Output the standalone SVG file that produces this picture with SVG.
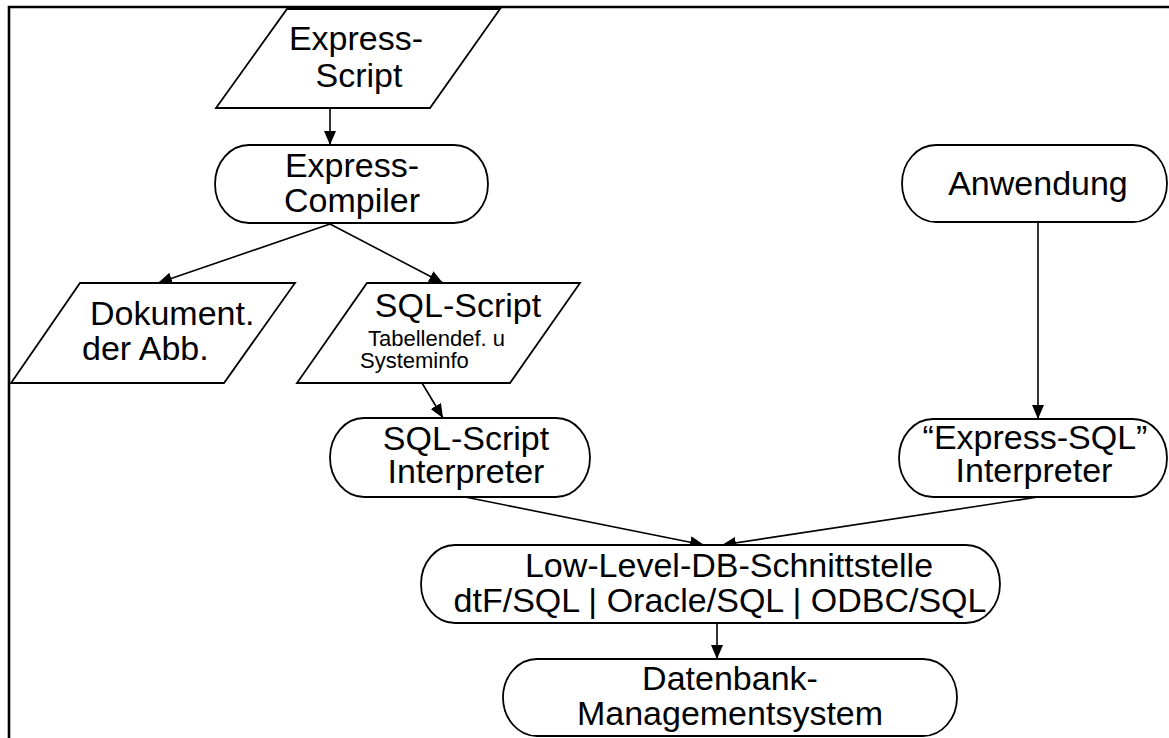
<svg xmlns="http://www.w3.org/2000/svg" width="1169" height="738" viewBox="0 0 1169 738">
  <style>
    .shape { fill: #ffffff; stroke: #000000; stroke-width: 1.8; }
    .frame { fill: none; stroke: #000000; stroke-width: 2.6; }
    .edge { fill: none; stroke: #000000; stroke-width: 1.6; marker-end: url(#arrow); }
    text { font-family: "Liberation Sans", Arial, Helvetica, sans-serif; font-size: 34px; fill: #000000; }
    .mid { text-anchor: middle; }
    .small { font-size: 22px; }
  </style>
  <defs>
    <marker id="arrow" viewBox="0 0 14 12" refX="14" refY="6" markerWidth="14" markerHeight="12" markerUnits="userSpaceOnUse" orient="auto">
      <path d="M0,0 L14,6 L0,12 Z" fill="#000000"/>
    </marker>
  </defs>
  <rect x="0" y="0" width="1169" height="738" fill="#ffffff"/>

  <!-- page frame: left and top rule -->
  <path class="frame" d="M9,738 V7 H1169"/>

  <!-- connectors -->
  <g id="connectors">
    <line class="edge" x1="330" y1="108" x2="330" y2="145"/>
    <line class="edge" x1="330" y1="224" x2="158" y2="283"/>
    <line class="edge" x1="330" y1="224" x2="443" y2="283"/>
    <line class="edge" x1="422" y1="383" x2="443" y2="418"/>
    <line class="edge" x1="1038" y1="222" x2="1038" y2="419"/>
    <line class="edge" x1="465" y1="497" x2="704" y2="545"/>
    <line class="edge" x1="1038" y1="497" x2="722" y2="545"/>
    <line class="edge" x1="717" y1="623" x2="717" y2="659"/>
  </g>

  <g id="express-script">
    <polygon class="shape" points="287,9 500,9 430,108 216,108"/>
    <text class="mid" x="356" y="50">Express-</text>
    <text class="mid" x="359" y="87">Script</text>
  </g>

  <g id="express-compiler">
    <rect class="shape" x="215" y="145" width="273" height="78" rx="34" ry="39"/>
    <text class="mid" x="352" y="177">Express-</text>
    <text class="mid" x="352" y="212">Compiler</text>
  </g>

  <g id="anwendung">
    <rect class="shape" x="902" y="145" width="265" height="77" rx="34" ry="38.5"/>
    <text class="mid" x="1038" y="195">Anwendung</text>
  </g>

  <g id="dokumentation">
    <polygon class="shape" points="80,283 295,283 224,383 11,383"/>
    <text x="90" y="325">Dokument.</text>
    <text x="82" y="360">der Abb.</text>
  </g>

  <g id="sql-script">
    <polygon class="shape" points="367,283 580,283 510,383 297,383"/>
    <text class="mid" x="458" y="317">SQL-Script</text>
    <text class="small" x="368" y="346">Tabellendef. u</text>
    <text class="small" x="360" y="368">Systeminfo</text>
  </g>

  <g id="sql-script-interpreter">
    <rect class="shape" x="330" y="418" width="260" height="79" rx="34" ry="39.5"/>
    <text class="mid" x="466" y="450">SQL-Script</text>
    <text class="mid" x="466" y="483">Interpreter</text>
  </g>

  <g id="express-sql-interpreter">
    <rect class="shape" x="899" y="419" width="268" height="78" rx="34" ry="39"/>
    <text class="mid" x="1035" y="449">“Express-SQL”</text>
    <text class="mid" x="1034" y="482">Interpreter</text>
  </g>

  <g id="low-level-db">
    <rect class="shape" x="421" y="545" width="579" height="78" rx="34" ry="39"/>
    <text class="mid" x="729" y="577">Low-Level-DB-Schnittstelle</text>
    <text class="mid" x="720" y="612">dtF/SQL | Oracle/SQL | ODBC/SQL</text>
  </g>

  <g id="dbms">
    <rect class="shape" x="503" y="659" width="454" height="77" rx="34" ry="38.5"/>
    <text class="mid" x="730" y="690">Datenbank-</text>
    <text class="mid" x="730" y="725">Managementsystem</text>
  </g>
</svg>
